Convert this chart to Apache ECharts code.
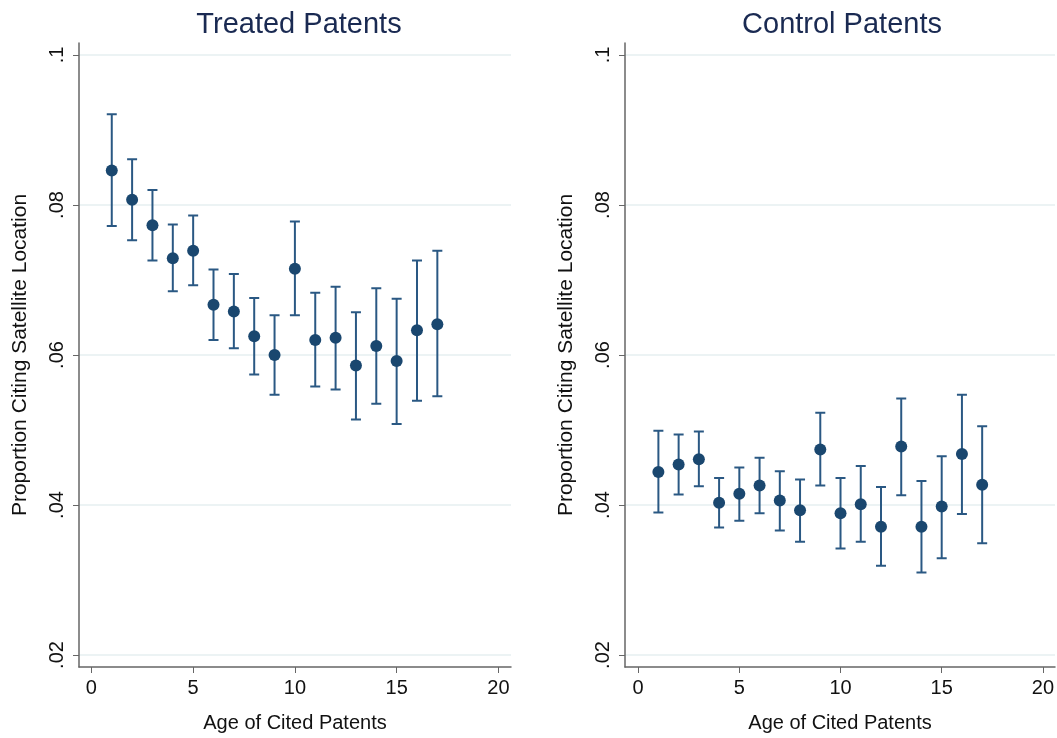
<!DOCTYPE html>
<html><head><meta charset="utf-8">
<script src="https://cdn.jsdelivr.net/npm/echarts@6/dist/echarts.min.js"></script>
<style>html,body{margin:0;padding:0;background:#fff}#c{width:1057px;height:738px}</style>
</head><body><div id="c"></div>
<script>
const ages = [1,2,3,4,5,6,7,8,9,10,11,12,13,14,15,16,17];
const treatedMean  = [0.0846,0.0807,0.0773,0.0729,0.0739,0.0667,0.0658,0.0625,0.0600,0.0715,0.0620,0.0623,0.0586,0.0612,0.0592,0.0633,0.0641];
const treatedUpper = [0.0921,0.0861,0.0820,0.0774,0.0786,0.0714,0.0708,0.0676,0.0653,0.0778,0.0683,0.0691,0.0657,0.0689,0.0675,0.0726,0.0739];
const treatedLower = [0.0772,0.0753,0.0726,0.0685,0.0693,0.0620,0.0609,0.0574,0.0547,0.0653,0.0558,0.0554,0.0514,0.0535,0.0508,0.0539,0.0545];
const controlMean  = [0.0444,0.0454,0.0461,0.0403,0.0415,0.0426,0.0406,0.0393,0.0474,0.0389,0.0401,0.0371,0.0478,0.0371,0.0398,0.0468,0.0427];
const controlUpper = [0.0499,0.0494,0.0498,0.0436,0.0450,0.0463,0.0445,0.0434,0.0523,0.0436,0.0452,0.0424,0.0542,0.0432,0.0465,0.0547,0.0505];
const controlLower = [0.0390,0.0414,0.0425,0.0370,0.0379,0.0389,0.0366,0.0351,0.0426,0.0342,0.0351,0.0319,0.0413,0.0310,0.0329,0.0388,0.0349];
const titles = ['Treated Patents','Control Patents'];
const xTicks = [0,5,10,15,20];
const yTicks = [0.02,0.04,0.06,0.08,0.1];
const yTickLabels = ['.02','.04','.06','.08','.1'];
const xTitle = 'Age of Cited Patents';
const yTitle = 'Proportion Citing Satellite Location';

const font = 'Liberation Sans, Arial, Helvetica, sans-serif';
const navy = '#1a476f';
const axisCol = '#666';

function xAxis(i, min, max){
  return {gridIndex:i, type:'value', min:min, max:max,
    axisLine:{show:true,onZero:false,lineStyle:{color:axisCol,width:1.5}},
    axisTick:{show:true,length:6,customValues:xTicks,lineStyle:{color:axisCol}},
    splitLine:{show:false},
    axisLabel:{color:'#111',fontSize:20,fontFamily:font,margin:11,
      customValues:xTicks, formatter:v=>String(v)},
    name:xTitle, nameLocation:'middle', nameGap:46,
    nameTextStyle:{color:'#111',fontSize:20,fontFamily:font}};
}
function yAxis(i){
  return {gridIndex:i, type:'value', min:0.0184, max:0.1016,
    axisLine:{show:true,onZero:false,lineStyle:{color:axisCol,width:1.5}},
    axisTick:{show:true,length:6,lineStyle:{color:axisCol},customValues:yTicks},
    splitLine:{show:true,lineStyle:{color:'#e6eff1',width:1.5}},
    axisLabel:{color:'#111',fontSize:20,fontFamily:font,rotate:90,margin:12,
      customValues:yTicks,
      formatter:v=>{let best=0;yTicks.forEach((t,k)=>{if(Math.abs(t-v)<Math.abs(yTicks[best]-v))best=k;});return yTickLabels[best];}},
    name:yTitle, nameLocation:'middle', nameGap:48,
    nameTextStyle:{color:'#111',fontSize:21,fontFamily:font}};
}
function errSeries(i, upper, lower){
  return {type:'custom', xAxisIndex:i, yAxisIndex:i,
    data: ages.map((a,k)=>[a, lower[k], upper[k]]),
    renderItem:(params, api)=>{
      const x = api.value(0);
      const lo = api.coord([x, api.value(1)]);
      const hi = api.coord([x, api.value(2)]);
      const w = 5;
      const st = {stroke:'#2a5883', lineWidth:2};
      return {type:'group', children:[
        {type:'line', shape:{x1:lo[0],y1:lo[1],x2:hi[0],y2:hi[1]}, style:st},
        {type:'line', shape:{x1:lo[0]-w,y1:lo[1],x2:lo[0]+w,y2:lo[1]}, style:st},
        {type:'line', shape:{x1:hi[0]-w,y1:hi[1],x2:hi[0]+w,y2:hi[1]}, style:st}
      ]};
    }, z:2, silent:true};
}
function ptSeries(i, mean){
  return {type:'scatter', xAxisIndex:i, yAxisIndex:i, symbol:'circle', symbolSize:12,
    itemStyle:{color:navy, opacity:1}, data: ages.map((a,k)=>[a, mean[k]]), z:3, silent:true};
}

const chart = echarts.init(document.getElementById('c'), null, {renderer:'canvas'});
chart.setOption({
  animation:false,
  backgroundColor:'#fff',
  title:[
    {text:titles[0], left:294, top:5, textAlign:'center',
      textStyle:{color:'#1a2a52',fontSize:29,fontWeight:'normal',fontFamily:font}},
    {text:titles[1], left:837, top:5, textAlign:'center',
      textStyle:{color:'#1a2a52',fontSize:29,fontWeight:'normal',fontFamily:font}}
  ],
  grid:[
    {left:79, top:43, width:432, height:628},
    {left:625, top:43, width:432, height:628}
  ],
  xAxis:[xAxis(0, -0.61, 20.62), xAxis(1, -0.65, 20.6)],
  yAxis:[yAxis(0), yAxis(1)],
  series:[
    errSeries(0, treatedUpper, treatedLower), ptSeries(0, treatedMean),
    errSeries(1, controlUpper, controlLower), ptSeries(1, controlMean)
  ]
});
</script></body></html>
